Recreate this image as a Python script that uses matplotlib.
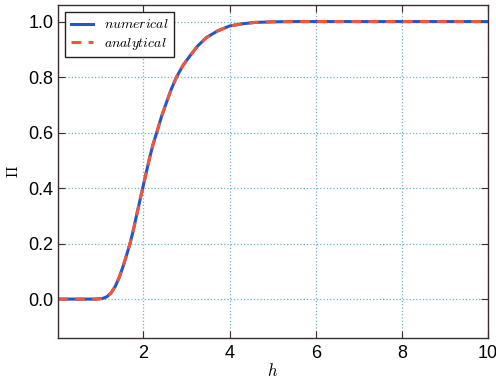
import matplotlib
matplotlib.use("Agg")
import matplotlib.pyplot as plt

# values
h = [0.02, 0.5, 0.9, 1.05, 1.15, 1.25, 1.345, 1.44, 1.53, 1.61, 1.69, 1.77, 1.84,
     1.92, 2.0, 2.08, 2.155, 2.23, 2.31, 2.42, 2.54, 2.65, 2.77, 2.92, 3.08,
     3.26, 3.46, 3.72, 4.0, 4.3, 4.6, 5.0, 5.5, 6.0, 7.0, 8.0, 9.0, 10.0]
pi_numerical = [0.0, 0.0, 0.0, 0.002, 0.008, 0.022, 0.045, 0.078, 0.118, 0.158,
                0.20, 0.25, 0.30, 0.355, 0.41, 0.465, 0.515, 0.56, 0.60, 0.657,
                0.71, 0.757, 0.80, 0.842, 0.876, 0.912, 0.942, 0.966, 0.984,
                0.992, 0.997, 0.999, 1.0, 1.0, 1.0, 1.0, 1.0, 1.0]
pi_analytical = list(pi_numerical)

plt.rcParams["font.family"] = ["Liberation Sans", "DejaVu Sans"]
plt.rcParams["mathtext.fontset"] = "cm"

fig = plt.figure(figsize=(4.96, 3.78), dpi=100)
ax = fig.add_axes([0.117, 0.106, 0.867, 0.881])

ax.plot(h, pi_numerical, color="#2456c8", linewidth=2.2, label=r"$numerical$")
ax.plot(h, pi_analytical, color="#f2553a", linewidth=2.2, linestyle=(0, (3.2, 2.4)),
        label=r"$analytical$")

ax.set_xlim(0.02, 10)
ax.set_ylim(-0.14, 1.06)
ax.set_xticks([2, 4, 6, 8, 10])
ax.set_yticks([0.0, 0.2, 0.4, 0.6, 0.8, 1.0])
ax.set_yticklabels(["0.0", "0.2", "0.4", "0.6", "0.8", "1.0"])
ax.tick_params(direction="in", length=5, labelsize=13, top=True, right=True,
               color="#3a2e2e")
ax.tick_params(axis="x", pad=5)
ax.grid(True, color="#6fb0cc", linestyle=":", linewidth=0.9)
for spine in ax.spines.values():
    spine.set_color("#3a2e2e")
    spine.set_linewidth(1.0)

ax.set_xlabel(r"$h$", fontsize=12, labelpad=0)
ax.set_ylabel(r"$\Pi$", fontsize=11, labelpad=5)

leg = ax.legend(loc="upper left", fontsize=10, fancybox=False, framealpha=1,
                edgecolor="#222222", handlelength=1.6, borderpad=0.4,
                labelspacing=0.3, borderaxespad=0.5)
leg.get_frame().set_linewidth(1.0)

fig.savefig("out.png", dpi=100)
